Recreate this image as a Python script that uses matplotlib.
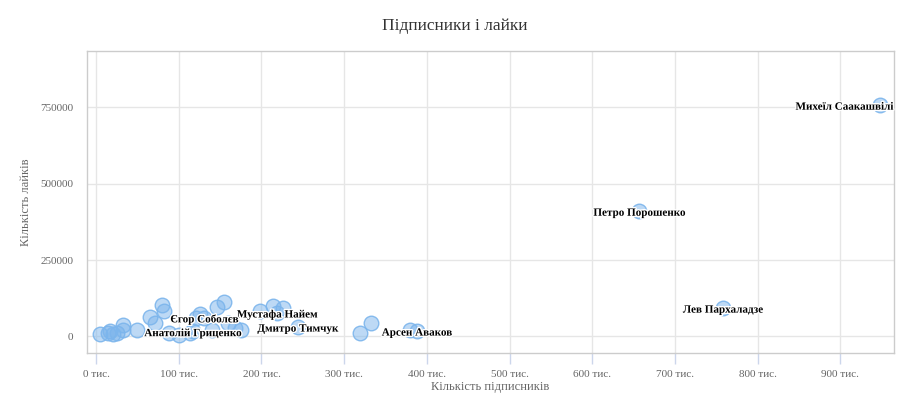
"""
Scatter chart: subscribers vs likes.
"""

import matplotlib.pyplot as plt
import matplotlib.patheffects as pe
from matplotlib.ticker import FuncFormatter

# subscribers (thousands) and likes (thousands)
labelled_names = [
    "Михеїл Саакашвілі",
    "Петро Порошенко",
    "Лев Пархаладзе",
    "Арсен Аваков",
    "Дмитро Тимчук",
    "Мустафа Найем",
    "Єгор Соболєв",
    "Анатолій Гриценко",
]
labelled_subs = [948, 657, 758, 388, 244, 219, 131, 117]
labelled_likes = [757, 410, 93, 18, 31, 78, 62, 17]

other_subs = [
    5, 14, 17, 20, 25, 33, 33, 50, 65, 71, 80, 82, 88, 100, 114,
    121, 126, 140, 146, 155, 160, 168, 175, 198, 214, 226, 319, 332, 380,
]
other_likes = [
    8, 10, 18, 8, 13, 20, 37, 22, 63, 45, 103, 83, 10, 5, 10,
    60, 72, 20, 95, 113, 45, 28, 22, 82, 100, 92, 12, 45, 20,
]

x_ticks = [0, 100, 200, 300, 400, 500, 600, 700, 800, 900]
y_ticks = [0, 250000, 500000, 750000]

SERIF = "Liberation Serif"
POINT_FACE = (124 / 255, 181 / 255, 236 / 255, 0.5)
POINT_EDGE = (124 / 255, 181 / 255, 236 / 255, 0.9)

fig = plt.figure(figsize=(9.16, 3.94), dpi=100)
ax = fig.add_axes([87 / 916, 41 / 394, 807 / 916, 302 / 394])

all_subs = other_subs + labelled_subs
all_likes = [v * 1000 for v in other_likes + labelled_likes]

ax.scatter(
    all_subs,
    all_likes,
    s=110,
    facecolor=POINT_FACE,
    edgecolor=POINT_EDGE,
    linewidth=1,
    zorder=3,
)

for name, sx, ly in zip(labelled_names, labelled_subs, labelled_likes):
    # keep the label inside the plot, like the original does
    if name == "Михеїл Саакашвілі":
        ha, dx = "right", 9.5
    else:
        ha, dx = "center", 0
    ax.annotate(
        name,
        (sx, ly * 1000),
        xytext=(dx, -1.5),
        textcoords="offset points",
        ha=ha,
        va="center",
        fontsize=8,
        fontweight="bold",
        family=SERIF,
        color="black",
        zorder=5,
        path_effects=[pe.withStroke(linewidth=2, foreground="white")],
    )

ax.set_xlim(-11, 965)
ax.set_ylim(-54000, 934000)

ax.set_xticks(x_ticks)
ax.xaxis.set_major_formatter(FuncFormatter(lambda v, p: f"{int(v)} тис."))
ax.set_yticks(y_ticks)

ax.tick_params(
    axis="x",
    length=8,
    width=1,
    color="#ccd6eb",
    labelsize=8,
    labelcolor="#666666",
    pad=4,
)
ax.tick_params(
    axis="y",
    length=0,
    labelsize=8,
    labelcolor="#666666",
    pad=10,
)
for label in ax.get_xticklabels() + ax.get_yticklabels():
    label.set_family(SERIF)

ax.grid(color="#e6e6e6", linewidth=1, zorder=0)
ax.set_axisbelow(True)

for spine in ax.spines.values():
    spine.set_color("#cccccc")
    spine.set_linewidth(1)

ax.set_xlabel(
    "Кількість підписників",
    fontsize=9,
    family=SERIF,
    color="#666666",
    labelpad=2,
)
ax.set_ylabel(
    "Кількість лайків",
    fontsize=9,
    family=SERIF,
    color="#666666",
    labelpad=6,
)

fig.text(
    0.496,
    1 - 26 / 394,
    "Підписники і лайки",
    ha="center",
    va="center",
    fontsize=12.5,
    family=SERIF,
    color="#333333",
)

fig.savefig("out.png", dpi=100)
plt.close(fig)
